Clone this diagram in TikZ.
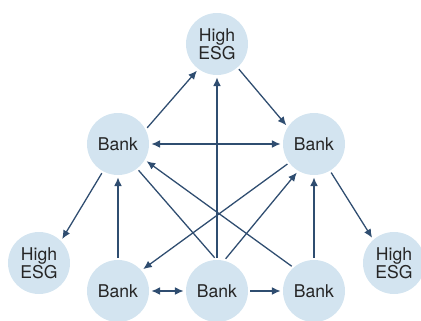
\documentclass[tikz,border=0pt]{standalone}
\usepackage{fontspec}
\setmainfont{TeX Gyre Heros}
\usepackage{xcolor}
\usetikzlibrary{arrows.meta}
\definecolor{esgfill}{HTML}{D3E4F0}
\definecolor{esgline}{HTML}{2F4D70}
\tikzset{
    link/.style={draw=esgline, line width=1.1pt},
    myarrow/.style={link, -{Latex[length=2.6mm,width=2.3mm]}},
    twoarrow/.style={link, {Latex[length=2.6mm,width=2.3mm]}-{Latex[length=2.6mm,width=2.3mm]}},
    firm/.style={circle, fill=esgfill, minimum size=1.86cm, inner sep=0pt, outer sep=0.07cm, align=center, text=black!85, font=\fontsize{15}{13}\selectfont}
}

\begin{document}
\begin{tikzpicture}
    \useasboundingbox (0,0) rectangle (12.63,9.6);
    % high ESG firms
    \node (esgtop) [firm] at (6.51,8.28) {High\\ESG};
    \node (esgleft) [firm] at (1.17,1.71) {High\\ESG};
    \node (esgright) [firm] at (11.82,1.71) {High\\ESG};
    % banks
    \node (bankl) [firm] at (3.54,5.28) {Bank};
    \node (bankr) [firm] at (9.42,5.28) {Bank};
    \node (bankbl) [firm] at (3.54,0.87) {Bank};
    \node (bankbc) [firm] at (6.51,0.87) {Bank};
    \node (bankbr) [firm] at (9.42,0.87) {Bank};
    % links
    \draw [myarrow] (bankl.29) -- (esgtop.-127);
    \draw [myarrow] (esgtop.-49) -- (bankr.146);
    \draw [twoarrow] (bankl.east) -- (bankr.west);
    \draw [myarrow] (bankl.-119) -- (esgleft.46);
    \draw [myarrow] (bankr.-59) -- (esgright.131);
    \draw [myarrow] (bankbl.north) -- (bankl.south);
    \draw [myarrow] (bankbr.north) -- (bankr.south);
    \draw [myarrow] (bankbc.north) -- (esgtop.south);
    \draw [link] (bankl.-52) -- (bankbc.94);
    \draw [myarrow] (bankbr.132) -- (bankl.-31);
    \draw [myarrow] (bankr.-143) -- (bankbl.41);
    \draw [myarrow] (bankbc.75) -- (bankr.-121);
    \draw [twoarrow] (bankbl.east) -- (bankbc.west);
    \draw [myarrow] (bankbc.east) -- (bankbr.west);
\end{tikzpicture}
\end{document}
